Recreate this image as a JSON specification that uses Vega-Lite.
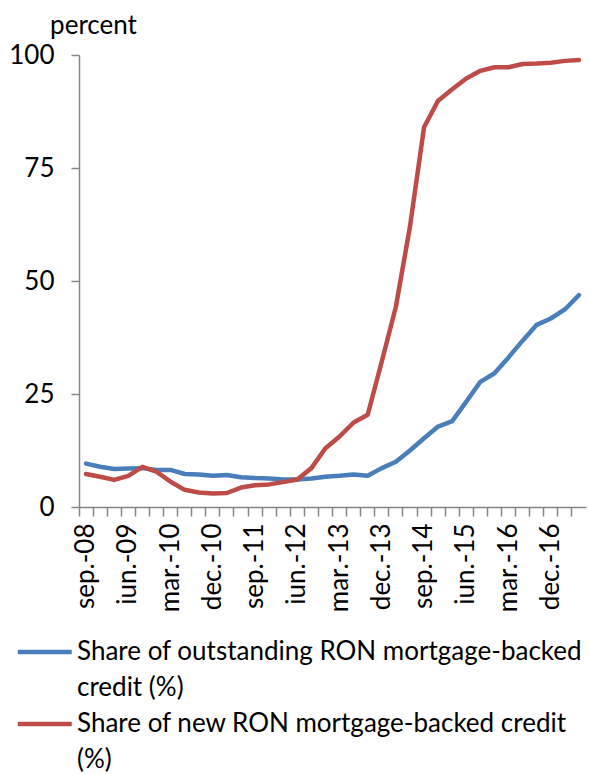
{
  "$schema": "https://vega.github.io/schema/vega-lite/v6.json",
  "width": 507,
  "height": 452,
  "autosize": {"type": "none"},
  "padding": {"left": 79, "top": 55, "right": 3, "bottom": 267},
  "background": "white",
  "config": {"view": {"stroke": null}, "font": "Lato", "style": {"guide-label": {"lineHeight": 36}}},
  "datasets": {
    "src": [
      {"quarter": "sep.-08", "outstanding": 9.6, "new": 7.3},
      {"quarter": "dec.-08", "outstanding": 8.9, "new": 6.7},
      {"quarter": "mar.-09", "outstanding": 8.4, "new": 6.0},
      {"quarter": "iun.-09", "outstanding": 8.5, "new": 6.9},
      {"quarter": "sep.-09", "outstanding": 8.6, "new": 8.9},
      {"quarter": "dec.-09", "outstanding": 8.2, "new": 7.8},
      {"quarter": "mar.-10", "outstanding": 8.2, "new": 5.6},
      {"quarter": "iun.-10", "outstanding": 7.3, "new": 3.8},
      {"quarter": "sep.-10", "outstanding": 7.2, "new": 3.2},
      {"quarter": "dec.-10", "outstanding": 6.9, "new": 3.0},
      {"quarter": "mar.-11", "outstanding": 7.1, "new": 3.1},
      {"quarter": "iun.-11", "outstanding": 6.6, "new": 4.3},
      {"quarter": "sep.-11", "outstanding": 6.4, "new": 4.8},
      {"quarter": "dec.-11", "outstanding": 6.3, "new": 5.0},
      {"quarter": "mar.-12", "outstanding": 6.1, "new": 5.5},
      {"quarter": "iun.-12", "outstanding": 6.1, "new": 6.1},
      {"quarter": "sep.-12", "outstanding": 6.3, "new": 8.6},
      {"quarter": "dec.-12", "outstanding": 6.7, "new": 13.0},
      {"quarter": "mar.-13", "outstanding": 6.9, "new": 15.6},
      {"quarter": "iun.-13", "outstanding": 7.2, "new": 18.7},
      {"quarter": "sep.-13", "outstanding": 6.9, "new": 20.4},
      {"quarter": "dec.-13", "outstanding": 8.6, "new": 32.2},
      {"quarter": "mar.-14", "outstanding": 10.0, "new": 44.3},
      {"quarter": "iun.-14", "outstanding": 12.5, "new": 62.0},
      {"quarter": "sep.-14", "outstanding": 15.2, "new": 84.0},
      {"quarter": "dec.-14", "outstanding": 17.8, "new": 89.9},
      {"quarter": "mar.-15", "outstanding": 19.0, "new": 92.4},
      {"quarter": "iun.-15", "outstanding": 23.3, "new": 94.8},
      {"quarter": "sep.-15", "outstanding": 27.7, "new": 96.5},
      {"quarter": "dec.-15", "outstanding": 29.6, "new": 97.3},
      {"quarter": "mar.-16", "outstanding": 33.1, "new": 97.3},
      {"quarter": "iun.-16", "outstanding": 36.8, "new": 98.0},
      {"quarter": "sep.-16", "outstanding": 40.3, "new": 98.1},
      {"quarter": "dec.-16", "outstanding": 41.7, "new": 98.3},
      {"quarter": "mar.-17", "outstanding": 43.7, "new": 98.7},
      {"quarter": "iun.-17", "outstanding": 46.9, "new": 98.9}
    ]
  },
  "data": {"name": "src"},
  "transform": [
    {"fold": ["outstanding", "new"], "as": ["key", "value"]},
    {"lookup": "key", "from": {"data": {"values": [
      {"key": "outstanding", "series": "Share of outstanding RON mortgage-backed credit (%)"},
      {"key": "new", "series": "Share of new RON mortgage-backed credit (%)"}
    ]}, "key": "key", "fields": ["series"]}}
  ],
  "mark": {"type": "line", "strokeWidth": 4.5, "strokeCap": "round", "strokeJoin": "round"},
  "encoding": {
    "x": {
      "field": "quarter",
      "type": "ordinal",
      "sort": null,
      "bandPosition": 0.5,
      "scale": {"type": "band", "paddingInner": 0, "paddingOuter": 0},
      "axis": {
        "title": null,
        "bandPosition": 0,
        "labelOffset": 0,
        "labelAngle": -90,
        "labelFontSize": 26,
        "labelColor": "black",
        "labelPadding": 7,
        "labelExpr": "indexof(['sep.-08','iun.-09','mar.-10','dec.-10','sep.-11','iun.-12','mar.-13','dec.-13','sep.-14','iun.-15','mar.-16','dec.-16'], datum.value) >= 0 ? datum.value : ''",
        "tickSize": 9,
        "tickColor": "#868686",
        "tickWidth": 1.5,
        "domainColor": "#868686",
        "domainWidth": 1.5,
        "grid": false,
        "labelOverlap": false
      }
    },
    "y": {
      "field": "value",
      "type": "quantitative",
      "scale": {"domain": [0, 100]},
      "axis": {
        "values": [0, 25, 50, 75, 100],
        "title": "percent",
        "titleAngle": 0,
        "titleX": 14,
        "titleY": -22,
        "titleAlign": "center",
        "titleBaseline": "alphabetic",
        "titleFontSize": 26,
        "titleFontWeight": "normal",
        "titleColor": "black",
        "labelFontSize": 26,
        "labelColor": "black",
        "labelPadding": 17,
        "tickSize": 8,
        "tickColor": "#868686",
        "tickWidth": 1.5,
        "domainColor": "#868686",
        "domainWidth": 1.5,
        "grid": false
      }
    },
    "color": {
      "field": "series",
      "type": "nominal",
      "scale": {
        "domain": ["Share of outstanding RON mortgage-backed credit (%)", "Share of new RON mortgage-backed credit (%)"],
        "range": ["#4A7EBB", "#BE4B48"]
      },
      "legend": {
        "orient": "none",
        "legendX": -30,
        "legendY": 584,
        "direction": "vertical",
        "title": null,
        "padding": 0,
        "labelFontSize": 26,
        "labelColor": "black",
        "labelLimit": 600,
        "labelBaseline": "middle",
        "labelOffset": 2,
        "symbolType": "M-4.425,0H0.975",
        "symbolSize": 400,
        "symbolStrokeWidth": 4.5,
        "rowPadding": 10,
        "labelExpr": "datum.label == 'Share of outstanding RON mortgage-backed credit (%)' ? ['Share of outstanding RON mortgage-backed', 'credit (%)'] : ['Share of new RON mortgage-backed credit', '(%)']"
      }
    }
  }
}
